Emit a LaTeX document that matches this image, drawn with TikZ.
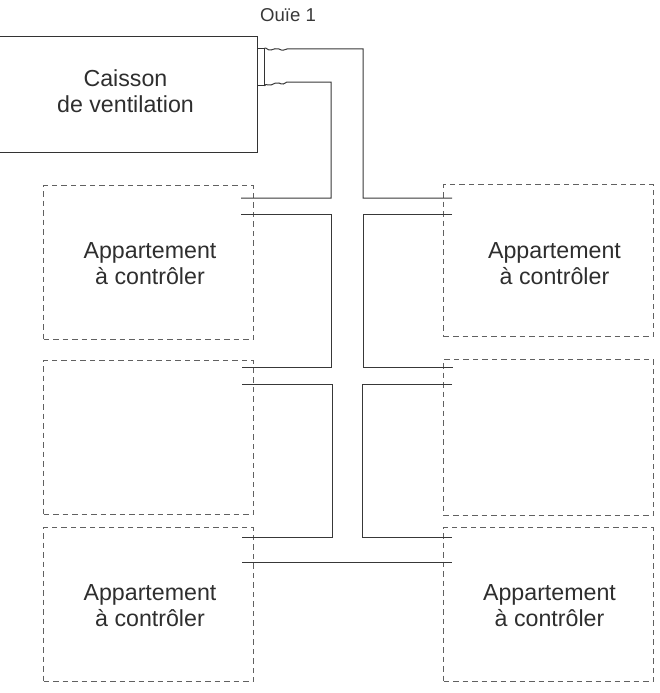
\documentclass[tikz,border=0pt]{standalone}
\usepackage{fontspec}
\setmainfont{Liberation Sans}
\tikzset{
  duct/.style={draw=black!78,line width=1pt,line join=miter},
  apt/.style={draw=black!62,line width=1.15pt,dash pattern=on 5.5pt off 4pt},
  caisson/.style={draw=black!80,line width=1pt},
  lbl/.style={font=\fontsize{23.2}{26.5}\selectfont,align=center,text=black!82,inner sep=0pt},
  small/.style={font=\fontsize{18.6}{22}\selectfont,text=black!78,inner sep=0pt}
}
\begin{document}
\begin{tikzpicture}[x=1pt,y=-1pt]
\useasboundingbox (0,0) rectangle (660,693);
% dashed flats
\node[apt,minimum width=210pt,minimum height=154pt,anchor=north west] (a1) at (43,185) {};
\node[apt,minimum width=210pt,minimum height=154pt,anchor=north west] (a2) at (43,360) {};
\node[apt,minimum width=210pt,minimum height=154pt,anchor=north west] (a3) at (43,527) {};
\node[apt,minimum width=210pt,minimum height=152pt,anchor=north west] (b1) at (443,184) {};
\node[apt,minimum width=210pt,minimum height=156pt,anchor=north west] (b2) at (443,359) {};
\node[apt,minimum width=210pt,minimum height=154pt,anchor=north west] (b3) at (443,527) {};
\node[lbl] (t1) at (150,263.5) {Appartement\\à contrôler};
\node[lbl] (t2) at (554.5,263.5) {Appartement\\à contrôler};
\node[lbl] (t3) at (150,605.5) {Appartement\\à contrôler};
\node[lbl] (t4) at (549.5,605.5) {Appartement\\à contrôler};
% caisson
\node[caisson,minimum width=258pt,minimum height=116pt,anchor=north west] (c) at (-1,36) {};
\node[lbl] (ct) at (125.5,91) {Caisson\\de ventilation};
\node[small] (o) at (288,15.5) {Ouïe 1};
% ouie
\node[caisson,minimum width=6.5pt,minimum height=37pt,anchor=north west,inner sep=0pt] (ou) at (257,48) {};
\coordinate (w1) at (ou.north east);
\coordinate (w2) at (ou.south east);
\draw[duct] (w1) .. controls (266,47) and (268,51) .. (271,50) .. controls (274,49) and (276,48) .. (279,49) .. controls (282,51) and (285,50) .. (287,49) -- (293,49) -- (363,49) -- (363,198) -- (452,198);
\draw[duct] (w2) .. controls (266,83) and (268,86) .. (271,85) .. controls (274,84) and (276,82) .. (279,83) .. controls (282,85) and (285,84) .. (287,82) -- (293,82) -- (331,82) -- (331,198) -- (241,198);
\draw[duct] (241,214) -- (331,214) -- (331,367) -- (242,367);
\draw[duct] (452,214) -- (363,214) -- (363,367) -- (453,367);
\draw[duct] (242,384) -- (332,384) -- (332,537) -- (242,537);
\draw[duct] (452,384) -- (362,384) -- (362,537) -- (452,537);
\draw[duct] (242,562) -- (452,562);
\end{tikzpicture}
\end{document}
